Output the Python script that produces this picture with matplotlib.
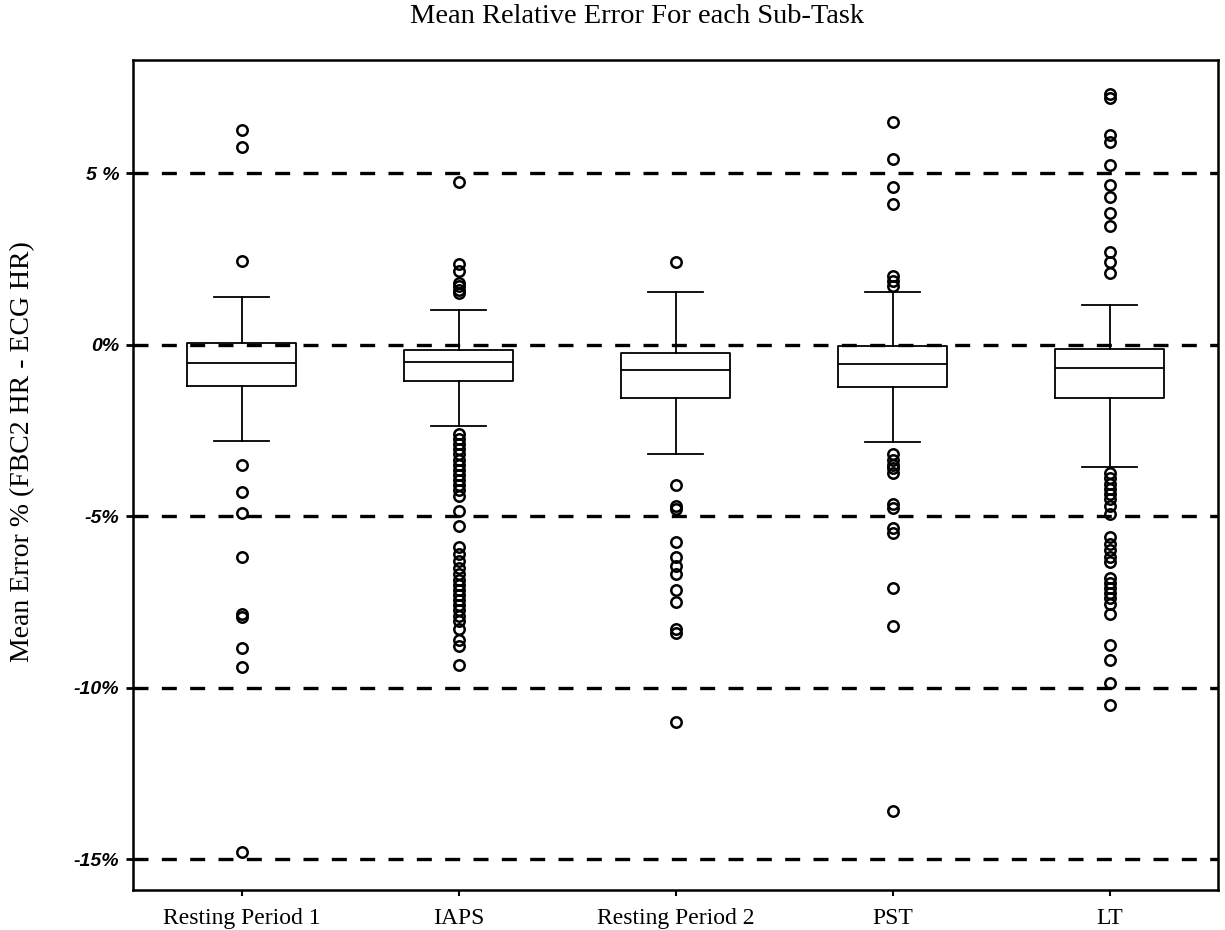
import matplotlib
matplotlib.use("Agg")
import matplotlib.pyplot as plt

# Sub-tasks on the x axis
tasks = ["Resting Period 1", "IAPS", "Resting Period 2", "PST", "LT"]

# Box statistics (% error)
q1 = [-1.20, -1.07, -1.55, -1.23, -1.55]
med = [-0.53, -0.52, -0.73, -0.55, -0.67]
q3 = [0.05, -0.15, -0.23, -0.05, -0.12]
whis_lo = [-2.80, -2.38, -3.20, -2.85, -3.56]
whis_hi = [1.40, 1.02, 1.55, 1.55, 1.16]

# Outliers per sub-task
rp1_fliers = [6.25, 5.75, 2.45, -3.5, -4.3, -4.9, -6.2, -7.85, -7.95, -8.85, -9.4, -14.8]
iaps_fliers = [4.75, 2.35, 2.15, 1.8, 1.7, 1.6, 1.5,
               -2.6, -2.75, -2.9, -3.05, -3.2, -3.35, -3.5, -3.65, -3.8, -3.95, -4.1, -4.25, -4.4,
               -4.85, -5.3, -5.9, -6.1, -6.3, -6.5, -6.7, -6.85, -7.0, -7.15, -7.3, -7.45,
               -7.6, -7.75, -7.9, -8.05, -8.3, -8.6, -8.8, -9.35]
rp2_fliers = [2.4, -4.1, -4.7, -4.8, -5.75, -6.2, -6.45, -6.7, -7.15, -7.5, -8.3, -8.4, -11.0]
pst_fliers = [6.5, 5.4, 4.6, 4.1, 2.0, 1.85, 1.7,
              -3.2, -3.35, -3.5, -3.6, -3.75, -4.65, -4.75, -5.35, -5.5, -7.1, -8.2, -13.6]
lt_fliers = [7.3, 7.2, 6.1, 5.9, 5.25, 4.65, 4.3, 3.85, 3.45, 2.7, 2.4, 2.1,
             -3.75, -3.9, -4.05, -4.2, -4.35, -4.5, -4.7, -4.95, -5.6, -5.8, -6.0, -6.2, -6.35,
             -6.8, -6.95, -7.1, -7.25, -7.4, -7.55, -7.85, -8.75, -9.2, -9.85, -10.5]
fliers = [rp1_fliers, iaps_fliers, rp2_fliers, pst_fliers, lt_fliers]

# Reference lines and their labels
ref_levels = [5, 0, -5, -10, -15]
ref_labels = ["5 %", "0%", "-5%", "-10%", "-15%"]

stats = []
for i in range(len(tasks)):
    stats.append(dict(label=tasks[i], q1=q1[i], med=med[i], q3=q3[i],
                      whislo=whis_lo[i], whishi=whis_hi[i], fliers=fliers[i]))

fig = plt.figure(figsize=(12.25, 9.3), dpi=100)
ax = fig.add_axes([0.1086, 0.043, 0.8857, 0.8925])

line_kw = dict(color="black", linewidth=1.3)
ax.bxp(stats, positions=range(1, 6), widths=0.5,
       boxprops=line_kw, medianprops=line_kw, whiskerprops=line_kw, capprops=line_kw,
       flierprops=dict(marker="o", markerfacecolor="none", markeredgecolor="black",
                       markersize=7.5, markeredgewidth=1.8))

for lvl in ref_levels:
    ax.axhline(lvl, color="black", linewidth=2.4, linestyle=(0, (4.5, 4)), zorder=5)

ax.set_xlim(0.5, 5.5)
ax.set_ylim(-15.9, 8.3)

ax.set_yticks(ref_levels)
ax.set_yticklabels(ref_labels, fontfamily="Liberation Sans", fontweight="bold",
                   fontstyle="italic", fontsize=14)
ax.set_xticks(range(1, 6))
ax.set_xticklabels(tasks, fontfamily="Liberation Serif", fontsize=17)
ax.tick_params(axis="y", length=5, width=2, pad=5)
ax.tick_params(axis="x", length=4, width=1.5, pad=9)

for side in ax.spines.values():
    side.set_linewidth(1.8)

ax.set_ylabel("Mean Error % (FBC2 HR - ECG HR)", fontfamily="Liberation Serif", fontsize=20)
ax.yaxis.set_label_coords(-0.090, 0.528)
fig.text(0.5204, 0.982, "Mean Relative Error For each Sub-Task", ha="center", va="center",
         fontfamily="Liberation Serif", fontsize=20.5)

fig.savefig("out.png", dpi=100)
